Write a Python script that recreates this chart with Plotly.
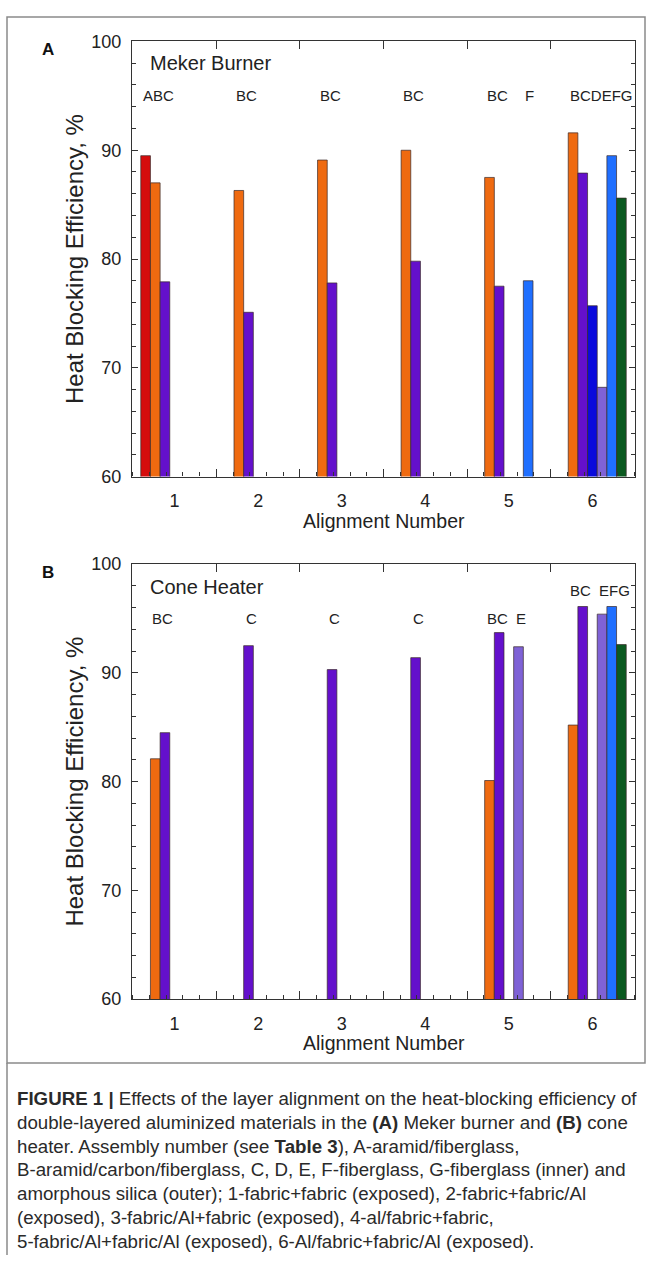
import plotly.graph_objects as go

# ---------------- data ----------------
alignments = [1, 2, 3, 4, 5, 6]
tick_labels = ["1", "2", "3", "4", "5", "6"]
series_names = ["A", "B", "C", "D", "E", "F", "G"]

# Panel A - Meker burner
meker_A = [89.5, None, None, None, None, None]
meker_B = [87.0, 86.3, 89.1, 90.0, 87.5, 91.6]
meker_C = [77.9, 75.1, 77.8, 79.8, 77.5, 87.9]
meker_D = [None, None, None, None, None, 75.7]
meker_E = [None, None, None, None, None, 68.2]
meker_F = [None, None, None, None, 78.0, 89.5]
meker_G = [None, None, None, None, None, 85.6]

# Panel B - Cone heater
cone_A = [None, None, None, None, None, None]
cone_B = [82.1, None, None, None, 80.1, 85.2]
cone_C = [84.5, 92.5, 90.3, 91.4, 93.7, 96.1]
cone_D = [None, None, None, None, None, None]
cone_E = [None, None, None, None, 92.4, 95.4]
cone_F = [None, None, None, None, None, 96.1]
cone_G = [None, None, None, None, None, 92.6]

meker_labels = ["ABC", "BC", "BC", "BC", "BC", "F", "BCDEFG"]
meker_label_x = [1, 2, 3, 4, 5, 5, 6]
meker_label_y = [95, 95, 95, 95, 95, 95, 95]

cone_labels = ["BC", "C", "C", "C", "BC", "E", "BC", "EFG"]
cone_label_x = [1, 2, 3, 4, 5, 5, 6, 6]
cone_label_y = [95, 95, 95, 95, 95, 95, 97.6, 97.6]

y_ticks = [60, 70, 80, 90, 100]

colors = ["#d50c0c", "#ef6a10", "#6410cc", "#0a0adc", "#7f62d6", "#1f6fff", "#0b5a20"]

meker = [meker_A, meker_B, meker_C, meker_D, meker_E, meker_F, meker_G]
cone = [cone_A, cone_B, cone_C, cone_D, cone_E, cone_F, cone_G]

# ---------------- figure ----------------
W, H = 652, 1265
FONT = "Liberation Sans, Arial, Helvetica, sans-serif"
fig = go.Figure()

for vals_list, xa, ya in [(meker, "x", "y"), (cone, "x2", "y2")]:
    for name, vals, col in zip(series_names, vals_list, colors):
        fig.add_trace(go.Bar(
            x=alignments, y=vals, name=name, xaxis=xa, yaxis=ya,
            marker=dict(color=col, line=dict(color="#3a2a2a", width=0.7)),
            showlegend=False,
        ))

def px_x(p):
    return p / W

def px_y(p):
    return 1 - p / H

xdom = [px_x(132), px_x(635)]
domA = [px_y(474), px_y(32)]
domB = [px_y(1005), px_y(563)]
xr = [0.49, 6.51]
axcol = "#333333"

def xaxis_main(anchor):
    return dict(domain=xdom, range=xr, anchor=anchor, tickmode="array",
                tickvals=alignments, ticktext=tick_labels, ticks="",
                showline=True, linecolor=axcol, linewidth=1.2, mirror=True,
                showgrid=False, zeroline=False, ticklabelstandoff=8,
                tickfont=dict(family=FONT, size=18, color="#222"),
                minor=dict(ticks="inside", ticklen=4, tick0=0.5, dtick=0.2,
                           tickcolor=axcol, tickwidth=1, showgrid=False))

def xaxis_major(anchor, over):
    return dict(domain=xdom, range=xr, anchor=anchor, overlaying=over,
                tickmode="array", tickvals=[0.5 + i for i in range(7)],
                showticklabels=False, ticks="inside", ticklen=8,
                tickcolor=axcol, tickwidth=1.2, mirror="ticks",
                showline=False, showgrid=False, zeroline=False)

def yaxis(dom, anchor):
    return dict(domain=dom, range=[60, 100], anchor=anchor, tickmode="array",
                tickvals=y_ticks, ticks="inside", ticklen=6, tickwidth=1.2,
                tickcolor=axcol, showline=True, linecolor=axcol, linewidth=1.2,
                mirror="ticks", showgrid=False, zeroline=False,
                ticklabelstandoff=6,
                tickfont=dict(family=FONT, size=18, color="#222"),
                minor=dict(ticks="inside", ticklen=4, dtick=2, tickcolor=axcol,
                           tickwidth=1, showgrid=False))

fig.update_layout(
    width=W, height=H, autosize=False,
    margin=dict(l=0, r=0, t=0, b=0),
    paper_bgcolor="white", plot_bgcolor="white",
    barmode="group", bargap=0.19, bargroupgap=0,
    xaxis=xaxis_main("y"), yaxis=yaxis(domA, "x"),
    xaxis2=xaxis_main("y2"), yaxis2=yaxis(domB, "x2"),
    xaxis3=xaxis_major("y", "x"), xaxis4=xaxis_major("y2", "x2"),
    font=dict(family=FONT, color="#222"),
)

# invisible traces so the overlay axes are drawn
fig.add_trace(go.Scatter(x=[None], y=[None], xaxis="x3", yaxis="y", showlegend=False, hoverinfo="skip"))
fig.add_trace(go.Scatter(x=[None], y=[None], xaxis="x4", yaxis="y2", showlegend=False, hoverinfo="skip"))

slot_w = (1 - 0.19) / 7
ann = []

def group_label(x, text, y, xref, yref):
    slot = series_names.index(text[0])
    xpos = x + (slot - 3) * slot_w - slot_w / 2
    return dict(x=xpos, y=y, xref=xref, yref=yref, text=text, showarrow=False,
                xanchor="left", yanchor="middle",
                font=dict(family=FONT, size=15, color="#222"))

for x, t, y in zip(meker_label_x, meker_labels, meker_label_y):
    ann.append(group_label(x, t, y, "x", "y"))
for x, t, y in zip(cone_label_x, cone_labels, cone_label_y):
    ann.append(group_label(x, t, y, "x2", "y2"))

ann.append(dict(x=0.68, y=98.0, xref="x", yref="y", text="Meker Burner", showarrow=False,
                xanchor="left", yanchor="middle", font=dict(family=FONT, size=20, color="#222")))
ann.append(dict(x=0.68, y=97.9, xref="x2", yref="y2", text="Cone Heater", showarrow=False,
                xanchor="left", yanchor="middle", font=dict(family=FONT, size=20, color="#222")))

for letter, yc in [("A", 40), ("B", 572)]:
    ann.append(dict(x=px_x(48), y=px_y(yc), xref="paper", yref="paper", text="<b>" + letter + "</b>",
                    showarrow=False, xanchor="center", yanchor="middle",
                    font=dict(family=FONT, size=17, color="#111")))

for yc in [253, 784]:
    ann.append(dict(x=px_x(75), y=px_y(yc), xref="paper", yref="paper",
                    text="Heat Blocking Efficiency, %", textangle=-90, showarrow=False,
                    xanchor="center", yanchor="middle",
                    font=dict(family=FONT, size=24, color="#222")))
for yc in [519, 1050]:
    ann.append(dict(x=px_x(383.5), y=px_y(yc), xref="paper", yref="paper",
                    text="Alignment Number", showarrow=False,
                    xanchor="center", yanchor="middle",
                    font=dict(family=FONT, size=19.5, color="#222")))

caption = [
    "<b>FIGURE 1 |</b> Effects of the layer alignment on the heat-blocking efficiency of",
    "double-layered aluminized materials in the <b>(A)</b> Meker burner and <b>(B)</b> cone",
    "heater. Assembly number (see <b>Table 3</b>), A-aramid/fiberglass,",
    "B-aramid/carbon/fiberglass, C, D, E, F-fiberglass, G-fiberglass (inner) and",
    "amorphous silica (outer); 1-fabric+fabric (exposed), 2-fabric+fabric/Al",
    "(exposed), 3-fabric/Al+fabric (exposed), 4-al/fabric+fabric,",
    "5-fabric/Al+fabric/Al (exposed), 6-Al/fabric+fabric/Al (exposed).",
]
for i, line in enumerate(caption):
    ann.append(dict(x=px_x(15), y=px_y(1106 + 24.2 * i), xref="paper", yref="paper",
                    text=line, showarrow=False, xanchor="left", yanchor="middle",
                    font=dict(family=FONT, size=18.7, color="#2a2a2a")))

fig.update_layout(annotations=ann)

frame = "#8a8a8a"
fig.update_layout(shapes=[
    dict(type="rect", xref="paper", yref="paper", x0=px_x(7), x1=px_x(645),
         y0=px_y(1070), y1=px_y(7), line=dict(color=frame, width=1.5)),
    dict(type="line", xref="paper", yref="paper", x0=px_x(7), x1=px_x(7),
         y0=0, y1=px_y(1070), line=dict(color=frame, width=1.5)),
])

fig.write_html("out.html", config={"displayModeBar": False},
               post_script="document.body.style.margin='0';document.body.style.padding='0';")
